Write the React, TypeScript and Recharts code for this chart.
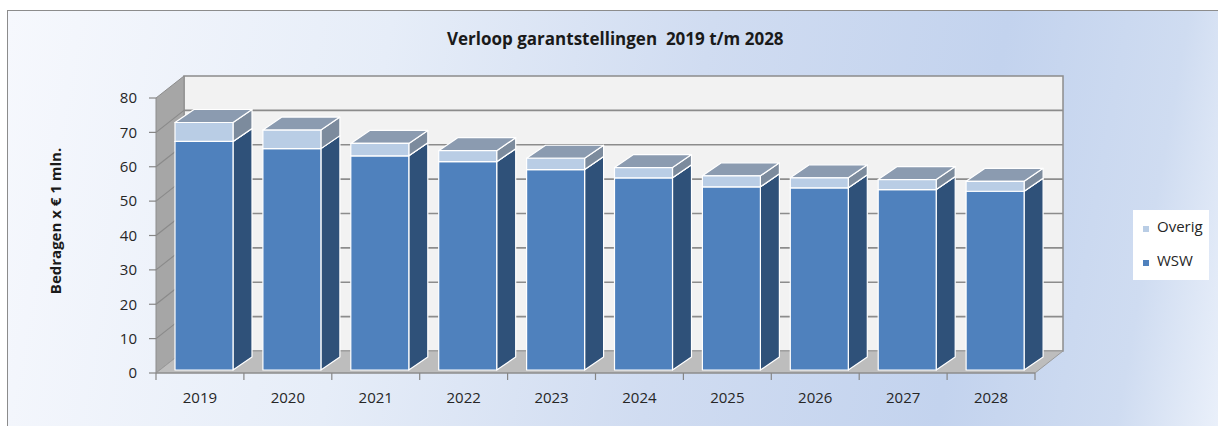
import React from 'react';
import { BarChart, Bar, XAxis, YAxis, ReferenceArea } from 'recharts';

// values (x € 1 mln.)
const years = ['2019', '2020', '2021', '2022', '2023', '2024', '2025', '2026', '2027', '2028'];
const wsw = [66.5, 64.4, 62.3, 60.6, 58.3, 55.9, 53.3, 53.0, 52.5, 52.0];
const overig = [5.5, 5.4, 3.6, 3.2, 3.3, 3.0, 3.2, 2.9, 2.9, 2.9];
const yTicks = [0, 10, 20, 30, 40, 50, 60, 70, 80];

const series = [
  { key: 'WSW', front: '#4f81bd', side: '#2f5179', top: '#6d8fb8' },
  { key: 'Overig', front: '#b9cde5', side: '#7c8b9d', top: '#8b9bb0' },
];

const data = years.map((year, i) => ({ year, WSW: wsw[i], Overig: overig[i] }));

// fake 3d: offset of the back wall and the depth of a bar
const WALL_DX = 28;
const WALL_DY = 22;
const BAR_SHIFT_X = 4;
const BAR_SHIFT_Y = 3;
const BAR_DX = 19;
const BAR_DY = 13;

const FONT = "'Open Sans', 'Liberation Sans', sans-serif";
const TEXT = '#262626';

const makeBox = (colors: { front: string; side: string; top: string }) => (props: any) => {
  const { x, y, width, height } = props;
  if (!height || height <= 0) return <g />;
  const fx = x + BAR_SHIFT_X;
  const fy = y - BAR_SHIFT_Y;
  const r = fx + width;
  const b = fy + height;
  return (
    <g stroke="#ffffff" strokeWidth={1.2} strokeLinejoin="round">
      <polygon
        points={`${r},${fy} ${r + BAR_DX},${fy - BAR_DY} ${r + BAR_DX},${b - BAR_DY} ${r},${b}`}
        fill={colors.side}
      />
      <polygon
        points={`${fx},${fy} ${fx + BAR_DX},${fy - BAR_DY} ${r + BAR_DX},${fy - BAR_DY} ${r},${fy}`}
        fill={colors.top}
      />
      <rect x={fx} y={fy} width={width} height={height} fill={colors.front} />
    </g>
  );
};

// back wall, side wall and floor for the whole value range
const Walls = (props: any) => {
  const { x, y, width, height } = props;
  const b = y + height;
  return (
    <g>
      <rect x={x + WALL_DX} y={y - WALL_DY} width={width} height={height} fill="#f2f2f2" stroke="#8c8c8c" strokeWidth={1.5} />
      <polygon
        points={`${x},${y} ${x + WALL_DX},${y - WALL_DY} ${x + WALL_DX},${b - WALL_DY} ${x},${b}`}
        fill="#a6a6a6"
        stroke="#8c8c8c"
        strokeWidth={1}
      />
      <polygon
        points={`${x},${b} ${x + WALL_DX},${b - WALL_DY} ${x + WALL_DX + width},${b - WALL_DY} ${x + width},${b}`}
        fill="#bdbdbd"
        stroke="#9a9a9a"
        strokeWidth={1}
      />
    </g>
  );
};

// one gridline at the top edge of a 10-unit band
const GridBand = (props: any) => {
  const { x, y, width } = props;
  return (
    <g stroke="#8c8c8c" strokeWidth={1.6}>
      <line x1={x} y1={y} x2={x + WALL_DX} y2={y - WALL_DY} stroke="#8a8a8a" strokeWidth={1.2} />
      <line x1={x + WALL_DX} y1={y - WALL_DY} x2={x + WALL_DX + width} y2={y - WALL_DY} />
    </g>
  );
};

const YearTick = (props: any) => {
  const { x, y, payload, index, visibleTicksCount } = props;
  const half = payload && payload.offset ? payload.offset : 44;
  const axisY = y - 19;
  return (
    <g>
      <line x1={x - half} y1={axisY} x2={x - half} y2={axisY + 7} stroke="#868686" strokeWidth={1.2} />
      {index === visibleTicksCount - 1 && (
        <line x1={x + half} y1={axisY} x2={x + half} y2={axisY + 7} stroke="#868686" strokeWidth={1.2} />
      )}
      <text x={x} y={y} dy="0.71em" textAnchor="middle" fill={TEXT} fontSize={15} fontFamily={FONT}>
        {payload.value}
      </text>
    </g>
  );
};

const AxisTitle = () => (
  <text
    x={55}
    y={221}
    transform="rotate(-90 55 221)"
    textAnchor="middle"
    dominantBaseline="central"
    fontSize={15}
    fontWeight={700}
    fontFamily={FONT}
    fill="#1a1a1a"
  >
    Bedragen x € 1 mln.
  </text>
);

export default function App() {
  return (
    <div style={{ position: 'absolute', left: 0, top: 0, width: 1218, height: 426, overflow: 'hidden', background: '#fff' }}>
      <div
        style={{
          position: 'absolute',
          left: 7,
          top: 10,
          width: 1211,
          height: 416,
          borderLeft: '1px solid #8c8c8c',
          borderTop: '1px solid #8c8c8c',
          background:
            'linear-gradient(100deg, #f6f8fd 0%, #e6edf8 30%, #d0dcf1 55%, #c3d3ee 78%, #cfdcf1 92%, #eaf0fa 100%)',
        }}
      />
      <div
        style={{
          position: 'absolute',
          left: 447,
          top: 27,
          whiteSpace: 'pre',
          fontFamily: FONT,
          fontWeight: 700,
          fontSize: 17,
          lineHeight: '23px',
          color: '#1a1a1a',
        }}
      >
        {'Verloop garantstellingen  2019 t/m 2028'}
      </div>
      <div style={{ position: 'absolute', left: 0, top: 0 }}>
        <BarChart width={1218} height={426} data={data} margin={{ top: 98, right: 183, bottom: 13, left: 96 }}>
          <ReferenceArea y1={0} y2={80} ifOverflow="visible" shape={(p: any) => <Walls {...p} />} />
          {yTicks.slice(1, -1).map((v) => (
            <ReferenceArea key={v} y1={v - 10} y2={v} ifOverflow="visible" shape={(p: any) => <GridBand {...p} />} />
          ))}
          <XAxis
            dataKey="year"
            height={40}
            tickLine={false}
            tickSize={7}
            tickMargin={12}
            axisLine={{ stroke: '#868686', strokeWidth: 1.2 }}
            tick={<YearTick />}
            interval={0}
          />
          <YAxis
            width={60}
            domain={[0, 80]}
            ticks={yTicks}
            interval={0}
            axisLine={false}
            tickLine={{ stroke: '#868686', strokeWidth: 1.2 }}
            tickSize={7}
            tickMargin={12}
            tick={{ fill: TEXT, fontSize: 15, fontFamily: FONT }}
            label={<AxisTitle />}
          />
          {series.map((s) => (
            <Bar
              key={s.key}
              dataKey={s.key}
              stackId="total"
              fill={s.front}
              barSize={58}
              shape={makeBox(s)}
              isAnimationActive={false}
            />
          ))}
        </BarChart>
      </div>
      <div style={{ position: 'absolute', left: 1133, top: 210, width: 76, height: 70, background: '#fff', fontFamily: FONT }}>
        {[...series].reverse().map((s, i) => (
          <div
            key={s.key}
            style={{ position: 'absolute', left: 10, top: 6 + i * 34, height: 20, display: 'flex', alignItems: 'flex-end' }}
          >
            <span style={{ width: 6, height: 6, background: s.front, marginRight: 8, marginBottom: 4 }} />
            <span style={{ fontSize: 15, lineHeight: '20px', color: TEXT }}>{s.key}</span>
          </div>
        ))}
      </div>
    </div>
  );
}
